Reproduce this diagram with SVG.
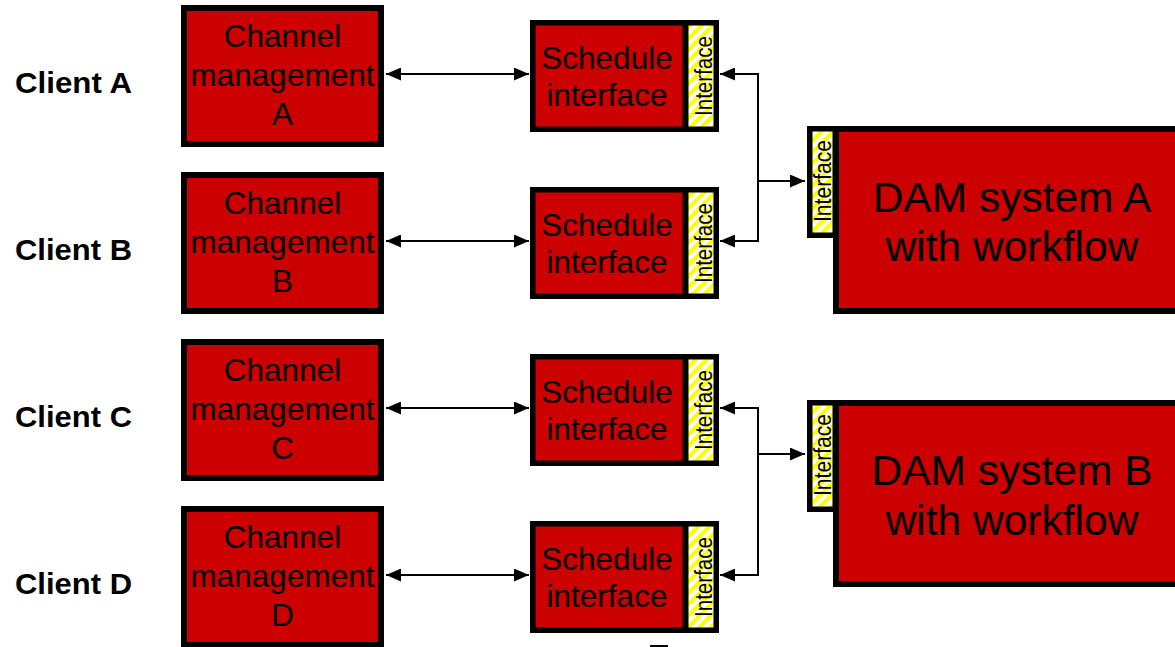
<svg xmlns="http://www.w3.org/2000/svg" width="1175" height="647" viewBox="0 0 1175 647">
<style>
.box{fill:#CC0000;stroke:#000;stroke-width:6}
.sbox{fill:#CC0000;stroke:#000;stroke-width:5.5}
.strip{fill:url(#hatch);stroke:#000;stroke-width:5.5}
.t{font-family:"Liberation Sans",Arial,sans-serif;fill:#000;text-anchor:middle}
.cm{font-size:31.5px}
.dam{font-size:42.5px}
.itf{font-size:23px}
.cl{font-family:"Liberation Sans",Arial,sans-serif;font-weight:bold;font-size:30px;fill:#000}
.con{fill:none;stroke:#000;stroke-width:2}
</style>
<defs>
<pattern id="hatch" patternUnits="userSpaceOnUse" width="8" height="8" patternTransform="rotate(45)">
<rect width="8" height="8" fill="#fff"/>
<rect width="4" height="8" fill="#FFFF00"/>
</pattern>
<marker id="ah" markerUnits="userSpaceOnUse" markerWidth="16" markerHeight="13" refX="15" refY="6.5" orient="auto-start-reverse">
<path d="M0,0 L15,6.5 L0,13 z" fill="#000"/>
</marker>
</defs>

<g id="client-labels">
<text class="cl" x="15" y="93" textLength="117" lengthAdjust="spacingAndGlyphs">Client A</text>
<text class="cl" x="15" y="260" textLength="117" lengthAdjust="spacingAndGlyphs">Client B</text>
<text class="cl" x="15" y="427" textLength="117" lengthAdjust="spacingAndGlyphs">Client C</text>
<text class="cl" x="15" y="594" textLength="117" lengthAdjust="spacingAndGlyphs">Client D</text>
</g>

<g id="channel-a">
<rect class="box" x="184" y="8" width="197" height="136"/>
<text class="t cm" x="282.5" y="47">Channel</text>
<text class="t cm" x="282.5" y="86">management</text>
<text class="t cm" x="282.5" y="125">A</text>
</g>
<g id="channel-b">
<rect class="box" x="184" y="175" width="197" height="136"/>
<text class="t cm" x="282.5" y="214">Channel</text>
<text class="t cm" x="282.5" y="253">management</text>
<text class="t cm" x="282.5" y="292">B</text>
</g>
<g id="channel-c">
<rect class="box" x="184" y="342" width="197" height="136"/>
<text class="t cm" x="282.5" y="381">Channel</text>
<text class="t cm" x="282.5" y="420">management</text>
<text class="t cm" x="282.5" y="459">C</text>
</g>
<g id="channel-d">
<rect class="box" x="184" y="509" width="197" height="136"/>
<text class="t cm" x="282.5" y="548">Channel</text>
<text class="t cm" x="282.5" y="587">management</text>
<text class="t cm" x="282.5" y="626">D</text>
</g>

<g id="schedule-a">
<rect class="sbox" x="532.75" y="22.75" width="152.5" height="106.5"/>
<rect class="strip" x="685.75" y="22.75" width="30.5" height="106.5"/>
<text class="t cm" x="607" y="69">Schedule</text>
<text class="t cm" x="607" y="106">interface</text>
<text class="t itf" transform="translate(712,76) rotate(-90)" textLength="80" lengthAdjust="spacingAndGlyphs">Interface</text>
</g>
<g id="schedule-b">
<rect class="sbox" x="532.75" y="189.75" width="152.5" height="106.5"/>
<rect class="strip" x="685.75" y="189.75" width="30.5" height="106.5"/>
<text class="t cm" x="607" y="236">Schedule</text>
<text class="t cm" x="607" y="273">interface</text>
<text class="t itf" transform="translate(712,243) rotate(-90)" textLength="80" lengthAdjust="spacingAndGlyphs">Interface</text>
</g>
<g id="schedule-c">
<rect class="sbox" x="532.75" y="356.75" width="152.5" height="106.5"/>
<rect class="strip" x="685.75" y="356.75" width="30.5" height="106.5"/>
<text class="t cm" x="607" y="403">Schedule</text>
<text class="t cm" x="607" y="440">interface</text>
<text class="t itf" transform="translate(712,410) rotate(-90)" textLength="80" lengthAdjust="spacingAndGlyphs">Interface</text>
</g>
<g id="schedule-d">
<rect class="sbox" x="532.75" y="523.75" width="152.5" height="106.5"/>
<rect class="strip" x="685.75" y="523.75" width="30.5" height="106.5"/>
<text class="t cm" x="607" y="570">Schedule</text>
<text class="t cm" x="607" y="607">interface</text>
<text class="t itf" transform="translate(712,577) rotate(-90)" textLength="80" lengthAdjust="spacingAndGlyphs">Interface</text>
</g>

<g id="dam-a">
<rect class="box" x="836" y="129" width="350" height="182"/>
<rect class="strip" x="809.75" y="128.75" width="25.5" height="106.5"/>
<text class="t dam" x="1012" y="212">DAM system A</text>
<text class="t dam" x="1012" y="261">with workflow</text>
<text class="t itf" transform="translate(831,181) rotate(-90)" textLength="82" lengthAdjust="spacingAndGlyphs">Interface</text>
</g>
<g id="dam-b">
<rect class="box" x="836" y="403" width="350" height="181"/>
<rect class="strip" x="809.75" y="402.75" width="25.5" height="106.5"/>
<text class="t dam" x="1012" y="485">DAM system B</text>
<text class="t dam" x="1012" y="535">with workflow</text>
<text class="t itf" transform="translate(831,455) rotate(-90)" textLength="82" lengthAdjust="spacingAndGlyphs">Interface</text>
</g>

<g id="connectors">
<line class="con" x1="386" y1="74" x2="529" y2="74" marker-start="url(#ah)" marker-end="url(#ah)"/>
<line class="con" x1="386" y1="241" x2="529" y2="241" marker-start="url(#ah)" marker-end="url(#ah)"/>
<line class="con" x1="386" y1="408" x2="529" y2="408" marker-start="url(#ah)" marker-end="url(#ah)"/>
<line class="con" x1="386" y1="575" x2="529" y2="575" marker-start="url(#ah)" marker-end="url(#ah)"/>
<path class="con" d="M720,74 H758 V241 H720" marker-start="url(#ah)" marker-end="url(#ah)"/>
<line class="con" x1="758" y1="181" x2="805" y2="181" marker-end="url(#ah)"/>
<path class="con" d="M720,408 H758 V575 H720" marker-start="url(#ah)" marker-end="url(#ah)"/>
<line class="con" x1="758" y1="454" x2="805" y2="454" marker-end="url(#ah)"/>
</g>

<rect x="650" y="645" width="18" height="2" fill="#000"/>
</svg>
